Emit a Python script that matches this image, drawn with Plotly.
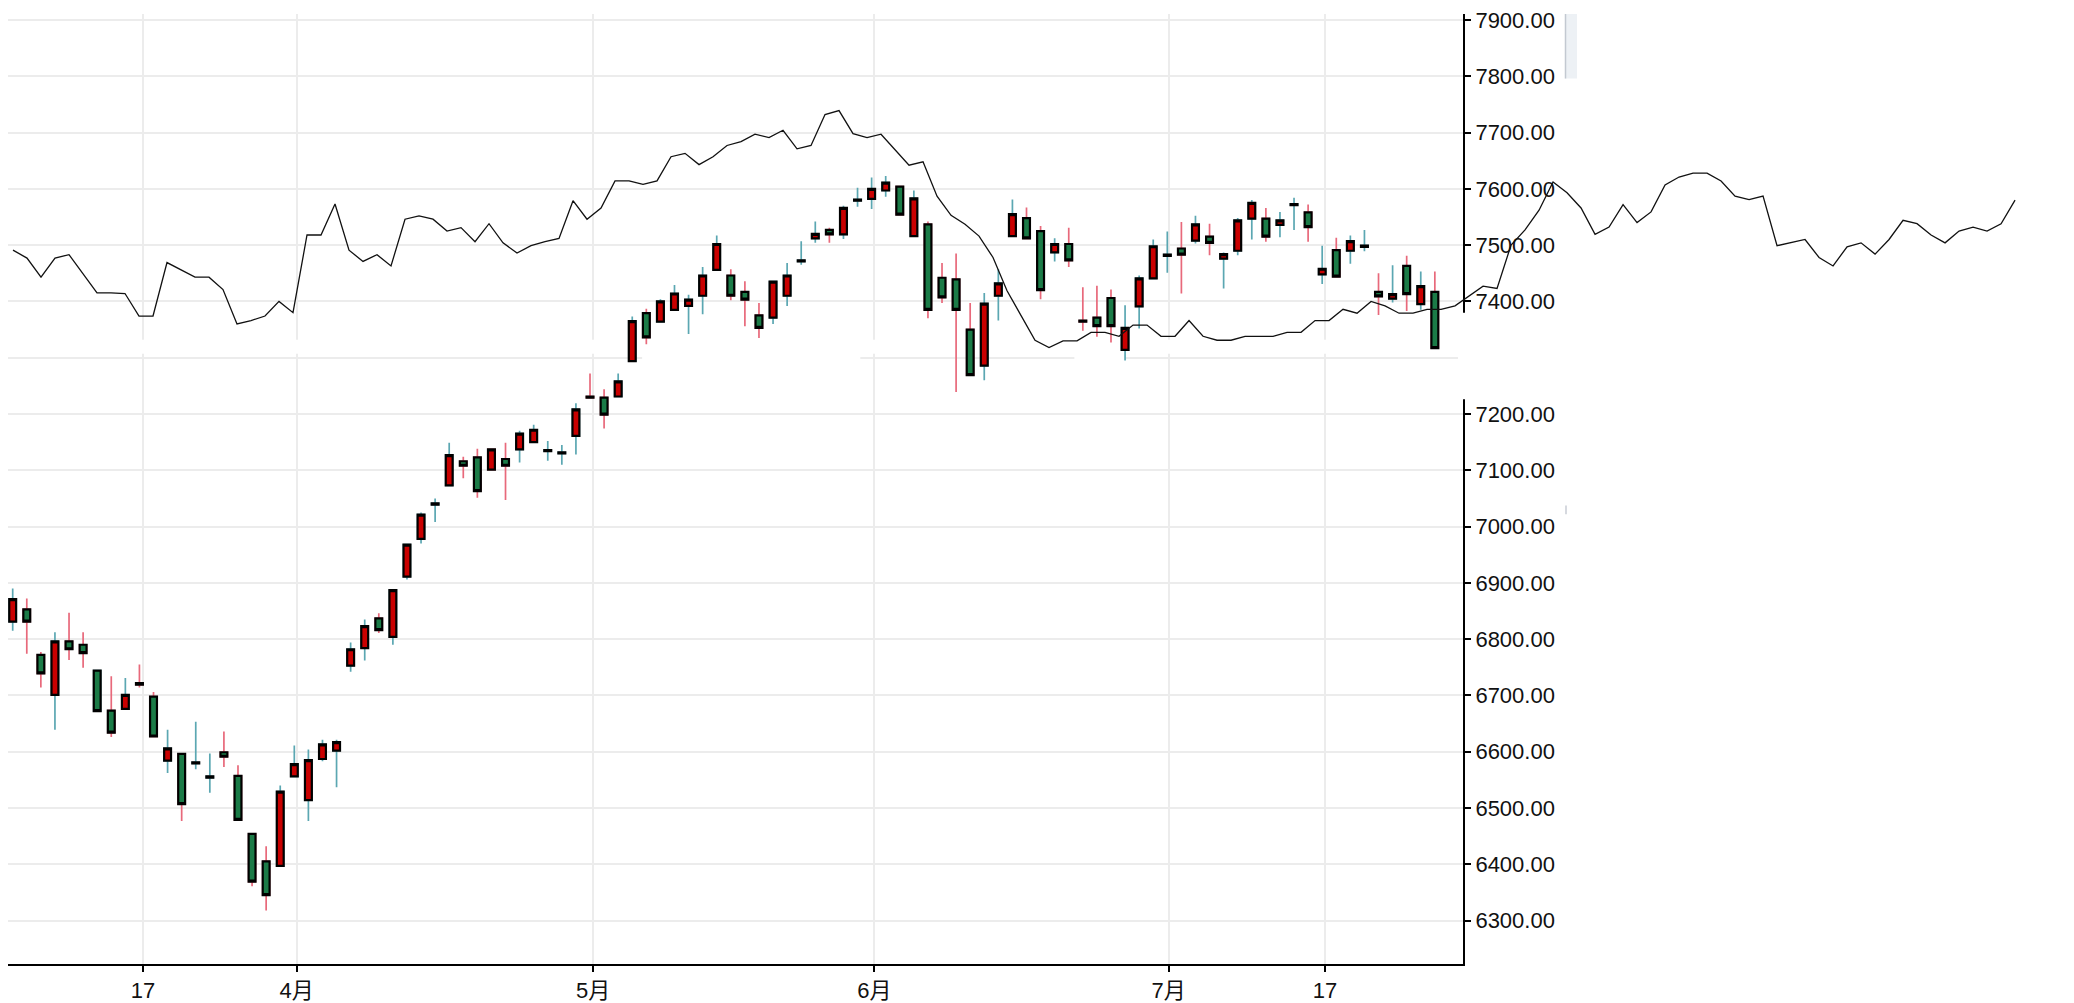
import plotly.graph_objects as go

# daily candles, one per trading day (x = day number)
opens = [6831, 6853, 6772, 6701, 6796, 6790, 6744, 6673, 6676, 6719,
         6698, 6584, 6596, 6581, 6556, 6599, 6557, 6454, 6405, 6397,
         6556, 6514, 6587, 6602, 6753, 6784, 6837, 6804, 6911, 6978,
         7039, 7073, 7116, 7123, 7101, 7120, 7137, 7150, 7136, 7132,
         7161, 7229, 7229, 7231, 7294, 7379, 7364, 7385, 7392, 7410,
         7456, 7446, 7417, 7375, 7371, 7410, 7471, 7512, 7527, 7519,
         7579, 7582, 7597, 7604, 7516, 7537, 7442, 7439, 7350, 7286,
         7410, 7516, 7548, 7525, 7487, 7502, 7366, 7371, 7406, 7314,
         7391, 7441, 7481, 7494, 7508, 7515, 7476, 7490, 7547, 7547,
         7536, 7571, 7558, 7448, 7491, 7490, 7497, 7417, 7405, 7463,
         7395, 7417]
highs = [6890, 6872, 6777, 6812, 6847, 6812, 6744, 6734, 6731, 6755,
         6706, 6639, 6596, 6653, 6597, 6636, 6576, 6454, 6432, 6540,
         6611, 6604, 6621, 6621, 6794, 6835, 6846, 6887, 6968, 7025,
         7050, 7149, 7124, 7138, 7137, 7149, 7170, 7181, 7152, 7145,
         7219, 7272, 7244, 7272, 7373, 7387, 7404, 7429, 7412, 7461,
         7517, 7457, 7436, 7397, 7435, 7468, 7507, 7542, 7531, 7570,
         7602, 7620, 7623, 7604, 7597, 7542, 7468, 7485, 7397, 7415,
         7457, 7581, 7567, 7534, 7512, 7531, 7425, 7428, 7421, 7393,
         7446, 7510, 7524, 7541, 7552, 7538, 7487, 7548, 7580, 7566,
         7559, 7584, 7572, 7499, 7513, 7517, 7527, 7450, 7464, 7481,
         7453, 7453]
lows = [6815, 6774, 6714, 6639, 6763, 6749, 6672, 6626, 6676, 6714,
        6627, 6562, 6477, 6569, 6527, 6573, 6479, 6361, 6318, 6397,
        6556, 6477, 6583, 6537, 6742, 6762, 6811, 6790, 6906, 6970,
        7008, 7073, 7086, 7051, 7101, 7047, 7114, 7150, 7117, 7110,
        7128, 7229, 7174, 7231, 7294, 7324, 7364, 7385, 7342, 7377,
        7456, 7402, 7356, 7335, 7360, 7392, 7465, 7504, 7504, 7511,
        7568, 7564, 7586, 7554, 7516, 7370, 7397, 7239, 7269, 7260,
        7366, 7516, 7512, 7404, 7471, 7461, 7348, 7337, 7327, 7295,
        7352, 7441, 7451, 7414, 7503, 7482, 7423, 7482, 7510, 7506,
        7514, 7527, 7506, 7431, 7444, 7467, 7489, 7376, 7398, 7383,
        7385, 7317]
closes = [6871, 6831, 6739, 6796, 6782, 6775, 6672, 6634, 6701, 6722,
          6627, 6606, 6507, 6579, 6554, 6591, 6479, 6369, 6345, 6529,
          6578, 6585, 6613, 6617, 6782, 6823, 6816, 6887, 6968, 7021,
          7041, 7127, 7108, 7063, 7137, 7108, 7165, 7172, 7134, 7130,
          7208, 7231, 7199, 7258, 7365, 7336, 7400, 7414, 7403, 7446,
          7502, 7410, 7403, 7353, 7435, 7446, 7473, 7520, 7519, 7566,
          7581, 7600, 7611, 7554, 7583, 7385, 7407, 7385, 7269, 7396,
          7432, 7555, 7512, 7420, 7502, 7473, 7364, 7356, 7356, 7353,
          7441, 7498, 7483, 7483, 7537, 7504, 7484, 7544, 7575, 7515,
          7544, 7573, 7532, 7458, 7444, 7507, 7499, 7409, 7413, 7413,
          7427, 7317]
# wick colour of each candle: 1 = red wick, 0 = teal wick
wick_red = [0, 1, 1, 0, 1, 1, 0, 1, 0, 1,
            1, 0, 1, 0, 0, 1, 1, 1, 1, 0,
            0, 0, 0, 0, 0, 0, 1, 0, 0, 0,
            0, 0, 1, 1, 1, 1, 0, 0, 0, 0,
            0, 1, 1, 0, 0, 1, 0, 0, 0, 0,
            0, 1, 1, 1, 0, 0, 0, 0, 1, 0,
            0, 0, 0, 1, 0, 1, 1, 1, 1, 0,
            0, 0, 1, 1, 0, 1, 1, 1, 1, 0,
            0, 0, 0, 1, 0, 1, 0, 0, 0, 1,
            0, 0, 1, 0, 1, 0, 0, 1, 0, 1,
            0, 1]

# the black line that runs on past the price axis
line_vals = [7491, 7477, 7443, 7477, 7483, 7449, 7415, 7415, 7414, 7374,
             7374, 7469, 7456, 7443, 7443, 7421, 7360, 7366, 7374, 7400,
             7380, 7518, 7518, 7573, 7491, 7471, 7483, 7463, 7546, 7552,
             7546, 7525, 7531, 7506, 7538, 7504, 7486, 7499, 7506, 7512,
             7579, 7546, 7566, 7614, 7614, 7608, 7614, 7657, 7663, 7643,
             7657, 7677, 7684, 7697, 7691, 7704, 7671, 7677, 7732, 7739,
             7698, 7691, 7697, 7670, 7642, 7648, 7587, 7553, 7537, 7516,
             7478, 7419, 7375, 7331, 7318, 7330, 7330, 7345, 7345, 7338,
             7358, 7358, 7338, 7338, 7366, 7338, 7331, 7331, 7338, 7338,
             7338, 7345, 7345, 7366, 7366, 7386, 7379, 7400, 7392, 7379,
             7379, 7386, 7386, 7392, 7410, 7427, 7423, 7500, 7527, 7562,
             7612, 7593, 7566, 7519, 7532, 7572, 7540, 7559, 7607, 7621,
             7628, 7628, 7614, 7587, 7581, 7587, 7499, 7504, 7510, 7478,
             7463, 7497, 7504, 7484, 7510, 7544, 7538, 7518, 7504, 7525,
             7532, 7525, 7538, 7580]

tick_days = [9.25, 20.17, 41.22, 61.2, 82.1, 93.2]
tick_text = ["17", "4月", "5月", "6月", "7月", "17"]

days = list(range(len(opens)))
body_lo = [min(o, c) for o, c in zip(opens, closes)]
body_hi = [max(o, c) for o, c in zip(opens, closes)]
# wick trace: direction only picks the wick colour, its body hides under the real one
wick_open = [lo if r else hi for lo, hi, r in zip(body_lo, body_hi, wick_red)]
wick_close = [hi if r else lo for lo, hi, r in zip(body_lo, body_hi, wick_red)]

RED = "#c90000"
GREEN = "#1b7b47"
PINK = "#e8697b"
TEAL = "#5ba7b2"
FONT = dict(family="Liberation Sans, Arial, Noto Sans CJK SC", size=22, color="#111111")

fig = go.Figure()

fig.add_trace(go.Candlestick(
    x=days, open=wick_open, high=highs, low=lows, close=wick_close,
    increasing=dict(line=dict(color=PINK, width=1.7), fillcolor=PINK),
    decreasing=dict(line=dict(color=TEAL, width=1.7), fillcolor=TEAL),
    showlegend=False, hoverinfo="skip",
))
fig.add_trace(go.Candlestick(
    x=days, open=opens, high=body_hi, low=body_lo, close=closes,
    increasing=dict(line=dict(color="black", width=2.2), fillcolor=RED),
    decreasing=dict(line=dict(color="black", width=2.2), fillcolor=GREEN),
    showlegend=False,
))
fig.add_trace(go.Scatter(
    x=list(range(len(line_vals))), y=line_vals,
    xaxis="x2", yaxis="y2", mode="lines",
    line=dict(color="#111111", width=1.3),
    showlegend=False,
))

# the page body has an 8px margin, so the figure is sized for the rest of the window
W, H = 2066, 995
OFF = 8
axis_x = 1463          # price axis, window pixels
plot_bottom = 965      # x axis, window pixels
plot_h = plot_bottom - OFF
y_range = [6222.8, 7910.6]

fig.update_layout(
    width=W, height=H,
    margin=dict(l=0, r=0, t=0, b=H - plot_h),
    paper_bgcolor="white",
    plot_bgcolor="rgba(0,0,0,0)",
    font=FONT,
    xaxis=dict(
        domain=[0, (axis_x - OFF) / W],
        range=[-0.334, 103.0],
        tickvals=tick_days, ticktext=tick_text,
        showgrid=True, gridcolor="#ececec", gridwidth=1.7,
        showline=True, linecolor="black", linewidth=2,
        ticks="outside", ticklen=6, tickcolor="black", tickwidth=1.5,
        zeroline=False, rangeslider=dict(visible=False),
        tickfont=FONT, ticklabeloverflow="allow",
    ),
    yaxis=dict(
        side="right",
        range=y_range,
        dtick=100, tickformat=".2f",
        showgrid=True, gridcolor="#ececec", gridwidth=1.7,
        showline=True, linecolor="black", linewidth=2,
        ticks="outside", ticklen=6, tickcolor="black", tickwidth=1.5,
        zeroline=False, tickfont=FONT, ticklabeloverflow="allow",
    ),
    xaxis2=dict(domain=[0, 1], anchor="y2", range=[-0.357, 147.21], visible=False),
    yaxis2=dict(domain=[0, 1], anchor="x2", range=y_range, visible=False),
)


def px_x(x):
    # window pixel column -> paper x
    return (x - OFF) / W


def px_y(y):
    # window pixel row -> paper y
    return (plot_bottom - y) / plot_h


white = dict(fillcolor="white", line=dict(width=0))
# broken strip across the chart under the line
fig.add_shape(type="rect", xref="x", yref="y", x0=-1, x1=104, y0=7307, y1=7332,
              layer="between", **white)
fig.add_shape(type="rect", xref="x", yref="y", x0=44.7, x1=60.2, y0=7296, y1=7304,
              layer="between", **white)
fig.add_shape(type="rect", xref="x", yref="y", x0=75.4, x1=79.0, y0=7296, y1=7304,
              layer="between", **white)
# gap in the price axis around 7300
fig.add_shape(type="rect", xref="paper", yref="paper", x0=px_x(1458), x1=px_x(1620),
              y0=px_y(396), y1=px_y(309), layer="above", **white)
# little grey scroll bar at the top right
fig.add_shape(type="rect", xref="paper", yref="paper", x0=px_x(1565), x1=px_x(1577),
              y0=px_y(73), y1=1, fillcolor="#edf1f5", line=dict(width=0), layer="above")
fig.add_shape(type="line", xref="paper", yref="paper", x0=px_x(1565.5), x1=px_x(1565.5),
              y0=px_y(73), y1=1, line=dict(color="#c3c9d1", width=1.5), layer="above")
fig.add_shape(type="line", xref="paper", yref="paper", x0=px_x(1566), x1=px_x(1566),
              y0=px_y(512), y1=px_y(503), line=dict(color="#c8ccd4", width=1.5), layer="above")

fig.write_html("out.html")
